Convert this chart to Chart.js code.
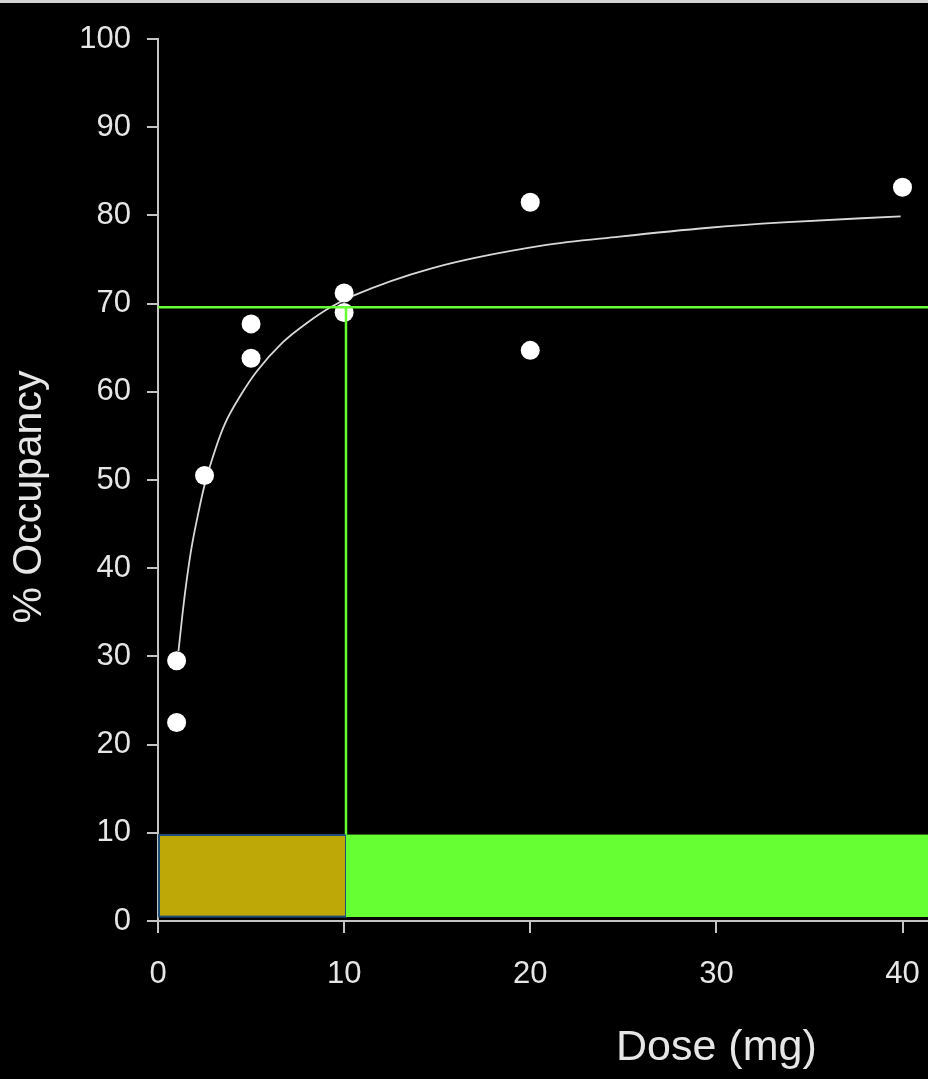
<!DOCTYPE html>
<html>
<head>
<meta charset="utf-8">
<script src="https://cdn.jsdelivr.net/npm/chart.js@4.4.1/dist/chart.umd.min.js"></script>
<style>
  html, body { margin: 0; padding: 0; background: #000; overflow: hidden; }
  body { border-top: 3px solid #d4d4d4; }
  #wrap { width: 928px; height: 1076px; overflow: hidden; }
  canvas { display: block; }
</style>
</head>
<body>
<div id="wrap"><canvas id="occupancyChart" width="1315" height="1076"></canvas></div>
<script>
// observed PET occupancy per subject
const doseMg = [1, 1, 2.5, 5, 5, 10, 10, 20, 20, 40];
const occupancy = [29.5, 22.5, 50.5, 67.7, 63.8, 71.2, 69.0, 81.5, 64.7, 83.2];

// fitted curve
const curveDose = [1.1, 1.3, 1.5, 1.8, 2.2, 2.5, 3.1, 3.6, 4.5, 5.3, 6.7, 8.0, 9.2, 10.5, 14.7, 20.7, 24.8, 29.6, 33.6, 39.9];
const curveOcc = [30.6, 34.5, 38.0, 42.3, 46.6, 49.4, 53.6, 56.4, 59.8, 62.3, 65.6, 67.8, 69.5, 70.9, 74.0, 76.6, 77.6, 78.6, 79.2, 79.9];

// 70% occupancy reference at 10 mg
const refOcc = 69.6;
const refDose = 10.1;

// dose bands along the bottom: [from, to, yLow, yHigh]
const bandRanges = [[0, 10.1, 0.5, 9.75], [10.1, 60, 0.45, 9.8]];
const bandColors = ["#bea808", "#66ff33"];
const bandBorders = ["#1f4e79", null];

const xTicksMax = 60;

const fontFamily = "'Liberation Sans', Arial, sans-serif";
const axisGrey = "#c4c4c4";
const textGrey = "#e6e6e6";

const bandsPlugin = {
  id: "doseBands",
  beforeDatasetsDraw(chart) {
    const { ctx, chartArea, scales } = chart;
    ctx.save();
    ctx.beginPath();
    ctx.rect(chartArea.left, chartArea.top, chartArea.right - chartArea.left, chartArea.bottom - chartArea.top);
    ctx.clip();
    bandRanges.forEach((r, i) => {
      const x0 = scales.x.getPixelForValue(r[0]);
      const x1 = scales.x.getPixelForValue(r[1]);
      const y0 = scales.y.getPixelForValue(r[3]);
      const y1 = scales.y.getPixelForValue(r[2]);
      ctx.fillStyle = bandColors[i];
      ctx.fillRect(x0, y0, x1 - x0, y1 - y0);
      if (bandBorders[i]) {
        ctx.strokeStyle = bandBorders[i];
        ctx.lineWidth = 2;
        ctx.strokeRect(x0 + 1, y0, x1 - x0 - 1, y1 - y0);
      }
    });
    ctx.restore();
  }
};

const ctx = document.getElementById("occupancyChart");
new Chart(ctx, {
  type: "line",
  data: {
    datasets: [
      {
        label: "70% line",
        data: [{ x: 0, y: refOcc }, { x: xTicksMax, y: refOcc }],
        borderColor: "#66ff33",
        borderWidth: 2.5,
        pointRadius: 0,
        order: 0,
      },
      {
        label: "10 mg line",
        data: [{ x: refDose, y: refOcc }, { x: refDose, y: bandRanges[1][3] }],
        borderColor: "#66ff33",
        borderWidth: 2.5,
        pointRadius: 0,
        order: 0,
      },
      {
        label: "Observed",
        type: "scatter",
        data: doseMg.map((d, i) => ({ x: d, y: occupancy[i] })),
        backgroundColor: "#ffffff",
        borderWidth: 0,
        pointRadius: 9.5,
        order: 1,
      },
      {
        label: "Fit",
        data: curveDose.map((d, i) => ({ x: d, y: curveOcc[i] })),
        borderColor: "#d8d8d8",
        borderWidth: 1.8,
        pointRadius: 0,
        cubicInterpolationMode: "monotone",
        order: 2,
      },
    ],
  },
  options: {
    responsive: false,
    animation: false,
    layout: { padding: { top: 36, left: 0, right: 20, bottom: 0 } },
    plugins: {
      legend: { display: false },
      tooltip: { enabled: false },
    },
    scales: {
      x: {
        type: "linear",
        min: 0,
        max: xTicksMax,
        afterFit: (scale) => { scale.height = 158; },
        border: { color: axisGrey, width: 2 },
        grid: { drawOnChartArea: false, drawTicks: true, tickLength: 12, color: axisGrey, lineWidth: 2 },
        ticks: { stepSize: 10, color: textGrey, padding: 23, font: { family: fontFamily, size: 31 } },
        title: {
          display: true,
          text: "Dose (mg)",
          color: textGrey,
          padding: { top: 0, bottom: 5 },
          font: { family: fontFamily, size: 43 },
        },
      },
      y: {
        min: 0,
        max: 100,
        afterFit: (scale) => { scale.width = 158; },
        border: { color: axisGrey, width: 2 },
        grid: { drawOnChartArea: false, drawTicks: true, tickLength: 11, color: axisGrey, lineWidth: 2 },
        ticks: { stepSize: 10, color: textGrey, padding: 16, font: { family: fontFamily, size: 31 } },
        title: {
          display: true,
          text: "% Occupancy   ",
          color: textGrey,
          padding: { top: 5, bottom: 0 },
          font: { family: fontFamily, size: 41 },
        },
      },
    },
  },
  plugins: [bandsPlugin],
});
</script>
</body>
</html>
